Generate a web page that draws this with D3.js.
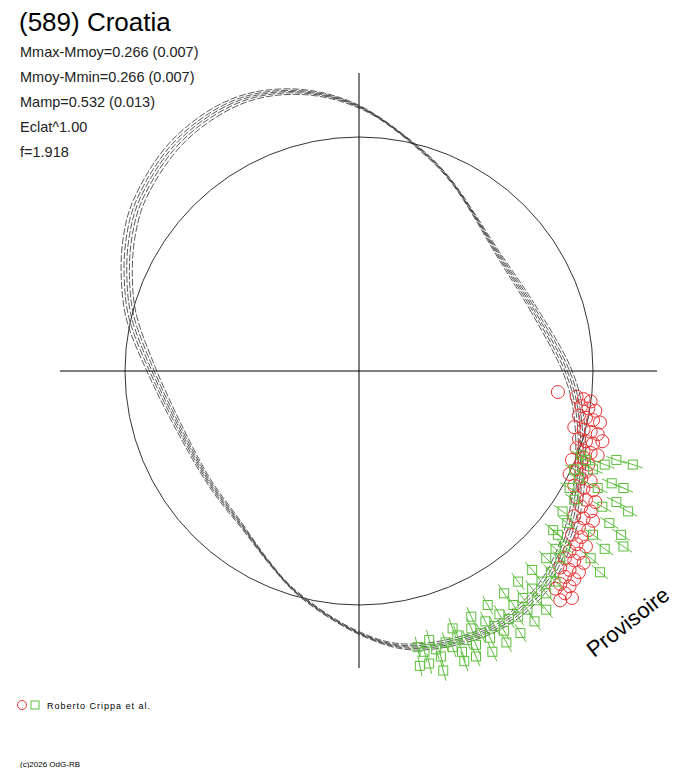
<!DOCTYPE html>
<html><head><meta charset="utf-8">
<script src="https://cdn.jsdelivr.net/npm/d3@7"></script>
<style>body{margin:0;background:#fff}svg{font-family:Arial,"Liberation Sans",sans-serif}</style>
</head><body><svg id="c" width="688" height="768"></svg>
<script>
const title = "(589) Croatia";
const statLines = ["Mmax-Mmoy=0.266 (0.007)","Mmoy-Mmin=0.266 (0.007)","Mamp=0.532 (0.013)","Eclat^1.00","f=1.918"];
// model curve: angle (deg, math convention) and radius (reference circle = 1)
const curveAngles = [0,20,39,64.5,75.5,90,102,114,128,142,150,158,166.6,180,196,217,233,245,254.4,270,280.5,297,310,323,336,350];
const curveRadii  = [0.89,0.79,0.775,0.905,0.99,1.13,1.22,1.265,1.25,1.19,1.135,1.07,1.0,0.885,0.81,0.797,0.83,0.905,0.985,1.12,1.2,1.24,1.215,1.13,1.035,0.95];
const redPts = [[0.85,-0.09],[0.93,-0.11],[0.96,-0.12],[0.99,-0.13],[0.95,-0.15],[0.98,-0.16],[1.01,-0.17],[0.94,-0.19],[0.97,-0.2],[1.0,-0.21],[1.03,-0.22],[0.92,-0.24],[0.96,-0.25],[0.99,-0.26],[1.02,-0.27],[0.94,-0.29],[0.97,-0.3],[1.0,-0.31],[0.93,-0.33],[0.96,-0.34],[0.99,-0.35],[1.02,-0.36],[0.91,-0.38],[0.95,-0.39],[0.98,-0.4],[0.93,-0.42],[0.97,-0.43],[0.9,-0.44],[0.95,-0.46],[0.99,-0.47],[0.92,-0.49],[0.96,-0.5],[1.0,-0.51],[0.93,-0.54],[0.97,-0.55],[1.01,-0.56],[0.95,-0.58],[0.99,-0.6],[0.92,-0.62],[0.96,-0.63],[1.0,-0.64],[0.94,-0.67],[0.98,-0.68],[0.91,-0.7],[0.95,-0.71],[0.93,-0.74],[0.97,-0.75],[0.9,-0.77],[0.94,-0.78],[0.88,-0.8],[0.92,-0.81],[0.96,-0.82],[0.86,-0.84],[0.9,-0.85],[0.94,-0.86],[0.88,-0.88],[0.92,-0.89],[0.86,-0.91],[0.9,-0.92],[0.84,-0.93],[0.88,-0.95],[0.91,-0.97],[0.86,-0.98],[0.96,-0.37],[1.04,-0.3]];
const greenPts = [[0.25,-1.18],[0.28,-1.2],[0.3,-1.15],[0.33,-1.19],[0.35,-1.22],[0.37,-1.16],[0.4,-1.18],[0.42,-1.13],[0.44,-1.2],[0.46,-1.15],[0.48,-1.1],[0.5,-1.17],[0.52,-1.12],[0.54,-1.07],[0.56,-1.14],[0.58,-1.09],[0.6,-1.04],[0.62,-1.11],[0.64,-1.06],[0.66,-1.0],[0.68,-1.05],[0.7,-0.97],[0.72,-1.02],[0.74,-0.93],[0.76,-0.98],[0.78,-0.9],[0.8,-0.95],[0.82,-0.86],[0.84,-0.9],[0.86,-0.8],[0.88,-0.75],[0.85,-0.7],[0.89,-0.65],[0.87,-0.6],[0.92,-0.55],[0.9,-0.5],[0.94,-0.46],[0.92,-0.42],[0.97,-0.38],[0.95,-0.36],[1.0,-0.42],[1.05,-0.4],[1.1,-0.38],[1.17,-0.4],[1.02,-0.5],[1.08,-0.48],[1.13,-0.5],[1.04,-0.58],[1.1,-0.56],[1.15,-0.6],[1.07,-0.65],[1.12,-0.7],[1.0,-0.7],[1.05,-0.76],[0.99,-0.8],[1.03,-0.86],[1.13,-0.75],[0.3,-1.25],[0.36,-1.28],[0.26,-1.26],[0.45,-1.24],[0.5,-1.22],[0.57,-1.2],[0.63,-1.16],[0.69,-1.12],[0.75,-1.07],[0.8,-1.02],[0.4,-1.1],[0.48,-1.05],[0.55,-1.0],[0.62,-0.95],[0.68,-0.9],[0.74,-0.85],[0.8,-0.8],[0.84,-0.76],[0.83,-0.68]];
const strandScales = [0.985,0.993,1.0,1.007,1.015];

const svg = d3.select("#c");
const cx=359, cy=371, R=234;
const x = d3.scaleLinear().domain([-1,1]).range([cx-R,cx+R]);
const y = d3.scaleLinear().domain([-1,1]).range([cy+R,cy-R]);
const rs = d3.scaleLinear().domain([0,1]).range([0,R]);

svg.append("line").attr("x1",60).attr("x2",657).attr("y1",cy).attr("y2",cy).attr("stroke","#000");
svg.append("line").attr("x1",cx).attr("x2",cx).attr("y1",73).attr("y2",668).attr("stroke","#000");
svg.append("circle").attr("cx",cx).attr("cy",cy).attr("r",rs(1)).attr("fill","none").attr("stroke","#000").attr("stroke-width",0.8);

const pts = curveAngles.map((a,i)=>[a,curveRadii[i]]);
strandScales.forEach((s,k)=>{
  const line = d3.lineRadial().angle(d=>(90-d[0]-(k-2)*0.6)*Math.PI/180).radius(d=>rs(d[1]*s)).curve(d3.curveCatmullRomClosed);
  svg.append("path").attr("transform",`translate(${cx},${cy})`).attr("d",line(pts))
    .attr("fill","none").attr("stroke","#333").attr("stroke-width",0.8).attr("stroke-dasharray","7,2").attr("stroke-dashoffset",k*3);
});

const red="#e83232", green="#5cbf3c";
svg.append("g").selectAll("circle").data(redPts).join("circle")
  .attr("cx",d=>x(d[0])).attr("cy",d=>y(d[1])).attr("r",6.5).attr("fill","none").attr("stroke",red);
const gg = svg.append("g");
greenPts.forEach(d=>{
  const a=Math.atan2(d[1],d[0]), e=0.045;
  gg.append("line").attr("x1",x(d[0]-e*Math.cos(a))).attr("y1",y(d[1]-e*Math.sin(a)))
    .attr("x2",x(d[0]+e*Math.cos(a))).attr("y2",y(d[1]+e*Math.sin(a))).attr("stroke",green);
  gg.append("rect").attr("x",x(d[0])-4.5).attr("y",y(d[1])-4.5).attr("width",9).attr("height",9).attr("fill","none").attr("stroke",green);
});

svg.append("text").attr("x",19).attr("y",31).attr("font-size",26).text(title);
statLines.forEach((t,i)=>svg.append("text").attr("x",20).attr("y",57+i*25).attr("font-size",14.5).attr("fill","#222").text(t));
svg.append("text").attr("transform","translate(594,658) rotate(-38)").attr("font-size",22).text("Provisoire");
svg.append("circle").attr("cx",22).attr("cy",705).attr("r",4.5).attr("fill","none").attr("stroke",red);
svg.append("rect").attr("x",31).attr("y",701).attr("width",8).attr("height",8).attr("fill","none").attr("stroke",green);
svg.append("text").attr("x",47).attr("y",709).attr("font-size",9).attr("letter-spacing",1).text("Roberto Crippa et al.");
svg.append("text").attr("x",20).attr("y",767).attr("font-size",8).text("(c)2026 OdG-RB");
</script></body></html>
